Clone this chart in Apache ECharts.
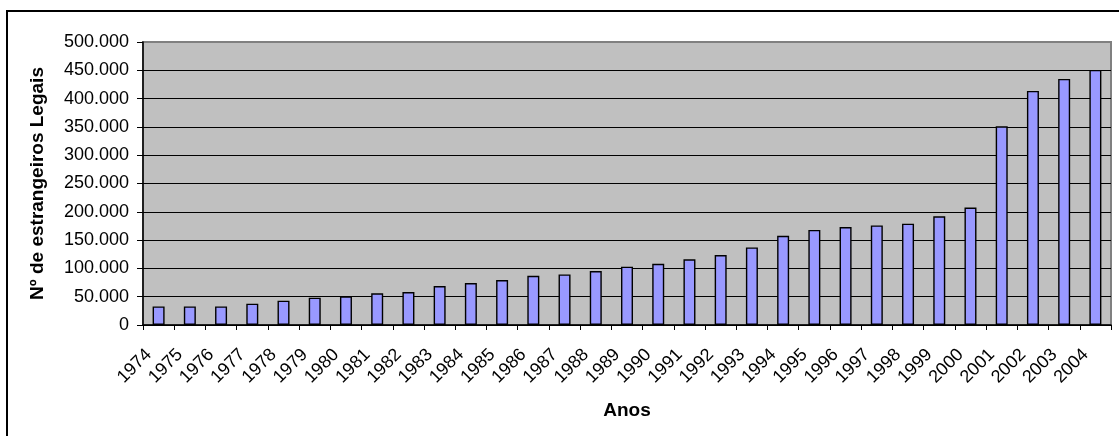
<!DOCTYPE html>
<html>
<head>
<meta charset="utf-8">
<script src="https://cdn.jsdelivr.net/npm/echarts@6/dist/echarts.min.js"></script>
<style>
html,body{margin:0;padding:0;background:#fff;}
#c{width:1119px;height:436px;}
</style>
</head>
<body>
<div id="c"></div>
<script>
const years = ['1974','1975','1976','1977','1978','1979','1980','1981','1982','1983','1984','1985','1986','1987','1988','1989','1990','1991','1992','1993','1994','1995','1996','1997','1998','1999','2000','2001','2002','2003','2004'];
const values = [32900,32900,32900,37700,43000,48200,50600,55900,58200,68800,74100,79400,87000,89400,95300,103000,108000,116000,123500,137000,157600,168000,173000,176000,179000,192000,207600,351000,413500,434700,450600];
const yTicks = {min:0, max:500000, interval:50000};

function fmt(v){
  if (v === 0) return '0';
  return String(v).replace(/\B(?=(\d{3})+(?!\d))/g, '.');
}

const splitColors = [];
const nLines = (yTicks.max - yTicks.min) / yTicks.interval;
for (let i = 0; i <= nLines; i++) {
  splitColors.push(i === nLines ? '#808080' : '#000000');
}

const chart = echarts.init(document.getElementById('c'), null, {renderer:'canvas'});
chart.setOption({
  animation:false,
  textStyle:{fontFamily:'Liberation Sans, Arial, sans-serif'},
  graphic:[{
    type:'rect', silent:true, z:-10,
    shape:{x:7, y:11, width:1300, height:700},
    style:{fill:'none', stroke:'#000', lineWidth:2}
  }],
  grid:{left:143, top:42, right:8, bottom:111, show:true, backgroundColor:'#C0C0C0', borderColor:'#808080', borderWidth:2},
  xAxis:{
    type:'category', data:years,
    name:'Anos', nameLocation:'middle', nameGap:76,
    nameTextStyle:{fontSize:19, fontWeight:'bold', color:'#000', fontFamily:'Liberation Sans, Arial, sans-serif'},
    axisLine:{lineStyle:{color:'#000', width:1.5}},
    axisTick:{show:true, alignWithLabel:false, length:5, lineStyle:{color:'#000'}},
    axisLabel:{rotate:45, fontSize:18, color:'#000', margin:17, padding:[0,14,0,0], interval:0},
    splitLine:{show:false}
  },
  yAxis:{
    type:'value', min:yTicks.min, max:yTicks.max, interval:yTicks.interval,
    name:'Nº de estrangeiros Legais', nameLocation:'middle', nameRotate:90, nameGap:96,
    nameTextStyle:{fontSize:19, fontWeight:'bold', color:'#000', fontFamily:'Liberation Sans, Arial, sans-serif'},
    axisLine:{show:true, lineStyle:{color:'#000', width:1.5}},
    axisTick:{show:true, length:6, lineStyle:{color:'#000'}},
    axisLabel:{fontSize:18, color:'#000', margin:14, formatter:fmt},
    splitLine:{show:true, lineStyle:{color:splitColors, width:1}}
  },
  series:[{
    type:'bar', data:values, barWidth:12,
    itemStyle:{color:'#9999FF', borderColor:'#000', borderWidth:1.4}
  }]
});
</script>
</body>
</html>
